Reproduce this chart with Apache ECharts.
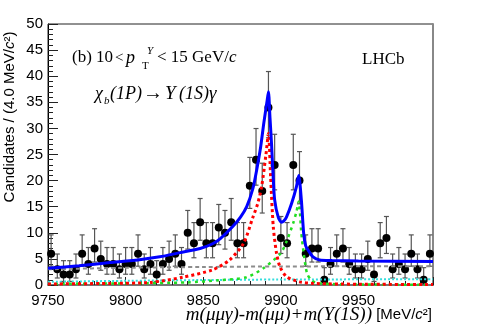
<!DOCTYPE html>
<html>
<head>
<meta charset="utf-8">
<script src="https://cdn.jsdelivr.net/npm/echarts@6/dist/echarts.min.js"></script>
<style>html,body{margin:0;padding:0;background:#fff;}#c{width:482px;height:326px;}</style>
</head>
<body>
<div id="c"></div>
<script>
// Bin centres (MeV/c^2) and candidate counts per 4 MeV bin
const binCenters = [9752,9756,9760,9764,9768,9772,9776,9780,9784,9788,9792,9796,9800,9804,9808,9812,9816,9820,9824,9828,9832,9836,9840,9844,9848,9852,9856,9860,9864,9868,9872,9876,9880,9884,9888,9892,9896,9900,9904,9908,9912,9916,9920,9924,9928,9932,9936,9940,9944,9948,9952,9956,9960,9964,9968,9972,9976,9980,9984,9988,9992,9996];
const counts = [6,3,2,2,3,6,4,7,5,4,4,3,4,4,6,3,4,2,4,5,6,4,10,8,12,8,8,11,10,12,8,8,19,24,18,34,23,9,8,23,20,6,7,7,1,4,6,7,4,3,3,5,2,8,9,3,4,3,6,3,1,6];

// Fit curves: [mass, value]
const totalFit = [[9750,3.2],[9770,3.7],[9790,4.3],[9810,4.9],[9822,5.4],[9835,6.2],[9848,7.0],[9856,7.9],[9861,8.9],[9869,11.2],[9874,13],[9878,15],[9882,18.5],[9884.4,22],[9887,26.5],[9889,31],[9891,35],[9892,37],[9893,32],[9894,27],[9895,21],[9896,16.3],[9898.3,13],[9900.4,12],[9902,12.3],[9903.6,13],[9906.9,15.6],[9910,18.8],[9911.5,21],[9913.2,16.3],[9914.7,9.9],[9916,7.5],[9917.5,6.7],[9920.7,5.4],[9925,4.8],[9933,4.7],[9950,4.6],[9998,4.5]];
const chib1 = [[9750,0.2],[9790,0.3],[9816,0.5],[9837,1.5],[9856,2.9],[9867,4.8],[9876,8.0],[9882,13],[9885,15.5],[9887.6,18.8],[9890.4,25],[9892,29],[9893.4,20.7],[9895.1,11.2],[9897.2,6.1],[9899.4,3.5],[9903.6,1.6],[9912,0.6],[9920.7,0.3],[9950,0.15],[9998,0.1]];
const chib2 = [[9750,0.2],[9800,0.3],[9840,0.5],[9860,0.9],[9878,1.5],[9888.7,3.2],[9900,6.1],[9903.6,8.3],[9907.9,11.8],[9910,14],[9911.5,16],[9913.2,9.9],[9914.7,6.1],[9916.9,2.2],[9920,0.8],[9925,0.3],[9950,0.1],[9998,0.05]];
const bkgA = [[9750,3.0],[9800,3.3],[9850,3.45],[9900,3.55],[9998,3.6]];
const bkgB = [[9750,0.6],[9800,0.8],[9850,0.95],[9900,1.05],[9998,1.1]];

const pts = binCenters.map((x,i)=>[x,counts[i]]);
const errs = binCenters.map((x,i)=>{const n=counts[i];return [x, n-Math.sqrt(Math.max(n-0.25,0)), n+1+Math.sqrt(n+0.75)];});

const chart = echarts.init(document.getElementById('c'), null, {renderer:'canvas'});
const SANS = 'Liberation Sans, Arial, sans-serif';
const SERIF = 'Liberation Serif, Times New Roman, serif';
const T = (x,y,text,font,extra)=>({type:'text',x:x,y:y,style:Object.assign({text:text,font:font,fill:'#000',verticalAlign:'middle'},extra||{})});

const option = {
  animation:false,
  grid:{left:48,right:49,top:24,bottom:41,show:true,borderColor:'#222',borderWidth:1},
  xAxis:{type:'value',min:9750,max:9998,interval:50,
    axisLine:{lineStyle:{color:'#777',width:2}},
    axisTick:{inside:true,length:8,lineStyle:{color:'#222'}},
    minorTick:{show:true,splitNumber:5,length:4,lineStyle:{color:'#222'}},
    splitLine:{show:false},
    axisLabel:{formatter:v=> (v%50===0?String(v):''),fontSize:15,color:'#000',margin:8,fontFamily:SANS}},
  yAxis:[{type:'value',min:0,max:50,interval:5,
    axisLine:{show:true,lineStyle:{color:'#000',width:1}},
    axisTick:{inside:true,length:10,lineStyle:{color:'#222'}},
    minorTick:{show:true,splitNumber:5,length:5,lineStyle:{color:'#222'}},
    splitLine:{show:false},
    axisLabel:{fontSize:15,color:'#000',margin:5,fontFamily:SANS}},
   {type:'value',position:'right',min:0,max:50,
    axisLine:{show:true,lineStyle:{color:'#888',width:2}},
    axisTick:{show:false},axisLabel:{show:false},splitLine:{show:false}}],
  series:[
    {type:'custom',z:2,data:errs,encode:{x:0,y:[1,2]},
     renderItem:(params,api)=>{
       const x=api.value(0),lo=api.value(1),hi=api.value(2);
       const a=api.coord([x,lo]),b=api.coord([x,hi]);
       const st={stroke:'#555',lineWidth:1.2};
       return {type:'group',children:[
         {type:'line',shape:{x1:a[0],y1:a[1],x2:b[0],y2:b[1]},style:st},
         {type:'line',shape:{x1:a[0]-2.5,y1:a[1],x2:a[0]+2.5,y2:a[1]},style:st},
         {type:'line',shape:{x1:b[0]-2.5,y1:b[1],x2:b[0]+2.5,y2:b[1]},style:st}]};
     }},
    {type:'scatter',z:3,data:pts,symbol:'circle',symbolSize:8,itemStyle:{color:'#000',opacity:1}},
    {type:'line',z:4,data:bkgA,symbol:'none',smooth:0.3,lineStyle:{color:'#8c8c8c',width:2,type:[4,3]}},
    {type:'line',z:4,data:bkgB,symbol:'none',smooth:0.3,lineStyle:{color:'#33dddd',width:2,type:[2,2]}},
    {type:'line',z:5,data:chib2,symbol:'none',smooth:0.25,lineStyle:{color:'#22dd22',width:2.5,type:[3,4]}},
    {type:'line',z:6,data:chib1,symbol:'none',smooth:0.25,lineStyle:{color:'#ff0000',width:3,type:[3,3]}},
    {type:'line',z:7,data:totalFit,symbol:'none',smooth:0.25,lineStyle:{color:'#0000ff',width:3}}
  ],
  graphic:[
    {type:'text',x:10,y:117,rotation:Math.PI/2,style:{text:'Candidates / (4.0 MeV/{i|c}²)',font:'15px '+SANS,fill:'#000',align:'center',verticalAlign:'middle',
      rich:{i:{fontStyle:'italic',fontSize:15,fontFamily:SANS}}}},
    {type:'text',x:432,y:315,style:{text:'{m|m(μμγ)-m(μμ)+m(Υ(1S))} [MeV/{i|c}²]',font:'15px '+SANS,fill:'#000',align:'right',verticalAlign:'middle',
      rich:{m:{fontFamily:SERIF,fontStyle:'italic',fontSize:19},i:{fontStyle:'italic',fontSize:15,fontFamily:SANS}}}},
    T(72,58,'(b) 10','17px '+SERIF),
    T(115,58,'<','15px '+SERIF),
    T(126,58,'p','italic 18px '+SERIF),
    T(142,66,'T','11px '+SERIF),
    T(147,51,'Υ','italic 11px '+SERIF),
    T(157,58,'< 15 GeV/{i|c}','17px '+SERIF,{rich:{i:{fontStyle:'italic',fontSize:17,fontFamily:SERIF}}}),
    T(95,94,'χ','italic 18px '+SERIF),
    T(104,101,'b','italic 11px '+SERIF),
    T(110,94,'(1P)','italic 18px '+SERIF),
    T(143,94,'→','20px '+SERIF),
    T(165,94,'Υ','italic 19px '+SERIF),
    T(179,94,'(1S)','italic 18px '+SERIF),
    T(209,94,'γ','italic 19px '+SERIF),
    T(362,60,'LHCb','17px '+SERIF)
  ]
};
chart.setOption(option);
</script>
</body>
</html>
